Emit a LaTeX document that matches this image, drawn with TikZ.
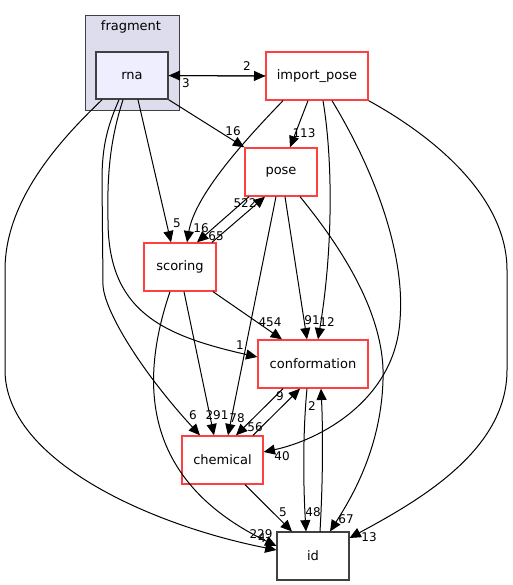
\documentclass[tikz,border=0pt]{standalone}
\usepackage{fontspec}
\setmainfont{DejaVu Sans}
\usetikzlibrary{arrows.meta}
\definecolor{nodered}{RGB}{255,64,64}
\definecolor{clusterfill}{RGB}{221,221,238}
\definecolor{dirfill}{RGB}{238,238,255}
\definecolor{dirline}{RGB}{64,64,64}
\tikzset{every picture/.style={line width=0.75pt}}
\tikzset{
  dirbox/.style={draw=nodered, line width=1pt, fill=white, minimum height=36pt, inner sep=0pt, font=\fontsize{9.75}{12}\selectfont},
  plainbox/.style={dirbox, draw=dirline, line width=0.8pt},
  edge/.style={-{Triangle[length=8.5pt,width=7.5pt]}},
  lbl/.style={inner sep=0pt, font=\fontsize{9}{11}\selectfont},
}

\begin{document}
\begin{tikzpicture}[x=0.75pt,y=0.75pt,yscale=-1,xscale=1]
    \useasboundingbox (0,0) rectangle (512,585);

    %Shape: Rectangle [cluster fragment]
    \draw (132,63) node (fragment) [draw=dirline, fill=clusterfill, minimum width=70.5pt, minimum height=71.25pt, inner sep=0pt] {};
    % Text Node
    \draw (131,27) node (fragment_lbl) [lbl, font=\fontsize{9.75}{12}\selectfont] {fragment};
    %Shape: Rectangle
    \draw (132,75.5) node (rna) [plainbox, fill=dirfill, line width=1.2pt, minimum width=54pt, minimum height=35.25pt] {rna};
    %Shape: Rectangle
    \draw (317,76) node (import_pose) [dirbox, minimum width=76.5pt] {import\_pose};
    %Shape: Rectangle
    \draw (281,172) node (pose) [dirbox, minimum width=54pt] {pose};
    %Shape: Rectangle
    \draw (180,267) node (scoring) [dirbox, minimum width=54pt] {scoring};
    %Shape: Rectangle
    \draw (313,364) node (conformation) [dirbox, minimum width=82.5pt] {conformation};
    %Shape: Rectangle
    \draw (222.5,460) node (chemical) [dirbox, minimum width=60.75pt] {chemical};
    %Shape: Rectangle
    \draw (313,556) node (id) [plainbox, minimum width=54pt] {id};

    %Straight Lines
    \draw[edge] (rna.east) -- (import_pose.west);
    %Straight Lines
    \draw[edge] (import_pose.west) -- (rna.east);
    %Straight Lines
    \draw[edge] (rna.south east) -- (pose.north west);
    %Straight Lines
    \draw[edge] (rna.south -| 138,0) -- (scoring.north -| 171,0);
    %Curve Lines
    \draw[edge] (rna.south -| 123,0) .. controls (110,140) and (107,175) .. (108,220) .. controls (108,310) and (160,335) .. (conformation.west |- 0,357);
    %Curve Lines
    \draw[edge] (rna.south -| 119,0) .. controls (108,125) and (102,145) .. (102,180) -- (103,285) .. controls (104,310) and (140,370) .. (chemical.north -| 200,0);
    %Curve Lines
    \draw[edge] (rna.south -| 102,0) .. controls (60,140) and (5,200) .. (5,270) -- (5,370) .. controls (5,460) and (150,525) .. (id.west |- 0,550);

    %Straight Lines
    \draw[edge] (import_pose.south -| 308,0) -- (pose.north -| 290,0);
    %Curve Lines
    \draw[edge] (import_pose.south -| 283,0) .. controls (245,140) and (195,195) .. (scoring.north -| 187,0);
    %Curve Lines
    \draw[edge] (import_pose.south -| 323,0) .. controls (333,160) and (333,250) .. (conformation.north -| 318,0);
    %Curve Lines
    \draw[edge] (import_pose.south -| 332,0) .. controls (380,180) and (405,260) .. (400,320) .. controls (395,400) and (320,440) .. (chemical.east |- 0,452);
    %Curve Lines
    \draw[edge] (import_pose.south east) .. controls (440,140) and (507,200) .. (507,270) -- (507,370) .. controls (507,450) and (420,500) .. (id.east |- 0,538);

    %Straight Lines
    \draw[edge] (pose.south -| 249,0) -- (scoring.north -| 197,0);
    %Straight Lines
    \draw[edge] (scoring.north -| 212,0) -- (pose.south -| 265,0);
    %Straight Lines
    \draw[edge] (pose.south -| 285,0) -- (conformation.north -| 307,0);
    %Straight Lines
    \draw[edge] (pose.south -| 276,0) -- (chemical.north -| 228,0);
    %Curve Lines
    \draw[edge] (pose.south -| 300,0) .. controls (360,270) and (385,330) .. (383,380) .. controls (381,450) and (350,500) .. (id.north -| 330,0);

    %Straight Lines
    \draw[edge] (scoring.south -| 213,0) -- (conformation.north -| 282,0);
    %Straight Lines
    \draw[edge] (scoring.south -| 184,0) -- (chemical.north -| 214,0);
    %Curve Lines
    \draw[edge] (scoring.south -| 170,0) .. controls (140,380) and (140,480) .. (id.west |- 0,546);

    %Straight Lines
    \draw[edge] (conformation.south -| 283,0) -- (chemical.north -| 236,0);
    %Straight Lines
    \draw[edge] (chemical.north -| 253,0) -- (conformation.south -| 300,0);
    %Curve Lines
    \draw[edge] (conformation.south -| 307,0) .. controls (303,430) and (303,480) .. (id.north -| 306,0);
    %Curve Lines
    \draw[edge] (id.north -| 320,0) .. controls (323,480) and (323,430) .. (conformation.south -| 321,0);
    %Straight Lines
    \draw[edge] (chemical.south -| 245,0) -- (id.north -| 292,0);

    % Text Node
    \draw (247,66) node (l_rna_imp) [lbl] {2};
    % Text Node
    \draw (186,83) node (l_imp_rna) [lbl] {3};
    % Text Node
    \draw (233,131) node (l_rna_pose) [lbl] {16};
    % Text Node
    \draw (304,133) node (l_imp_pose) [lbl] {113};
    % Text Node
    \draw (177,223) node (l_rna_sco) [lbl] {5};
    % Text Node
    \draw (201,228) node (l_imp_sco) [lbl] {16};
    % Text Node
    \draw (245,203) node (l_sco_pose) [lbl] {522};
    % Text Node
    \draw (216,236) node (l_pose_sco) [lbl] {65};
    % Text Node
    \draw (270,322) node (l_sco_conf) [lbl] {454};
    % Text Node
    \draw (312,320) node (l_pose_conf) [lbl] {91};
    % Text Node
    \draw (327,322) node (l_imp_conf) [lbl] {12};
    % Text Node
    \draw (240,345) node (l_rna_conf) [lbl] {1};
    % Text Node
    \draw (193,415) node (l_rna_chem) [lbl] {6};
    % Text Node
    \draw (217,415) node (l_sco_chem) [lbl] {291};
    % Text Node
    \draw (237,418) node (l_pose_chem) [lbl] {78};
    % Text Node
    \draw (255,427) node (l_chem_conf) [lbl] {56};
    % Text Node
    \draw (280,396) node (l_conf_chem) [lbl] {9};
    % Text Node
    \draw (312,406) node (l_id_conf) [lbl] {2};
    % Text Node
    \draw (282,456) node (l_imp_chem) [lbl] {40};
    % Text Node
    \draw (283,512) node (l_chem_id) [lbl] {5};
    % Text Node
    \draw (313,512) node (l_conf_id) [lbl] {48};
    % Text Node
    \draw (346,519) node (l_pose_id) [lbl] {67};
    % Text Node
    \draw (369,537) node (l_imp_id) [lbl] {13};
    % Text Node
    \draw (261,534) node (l_sco_id) [lbl] {229};
    % Text Node
    \draw (262,538) node (l_rna_id) [lbl] {4};

\end{tikzpicture}
\end{document}
